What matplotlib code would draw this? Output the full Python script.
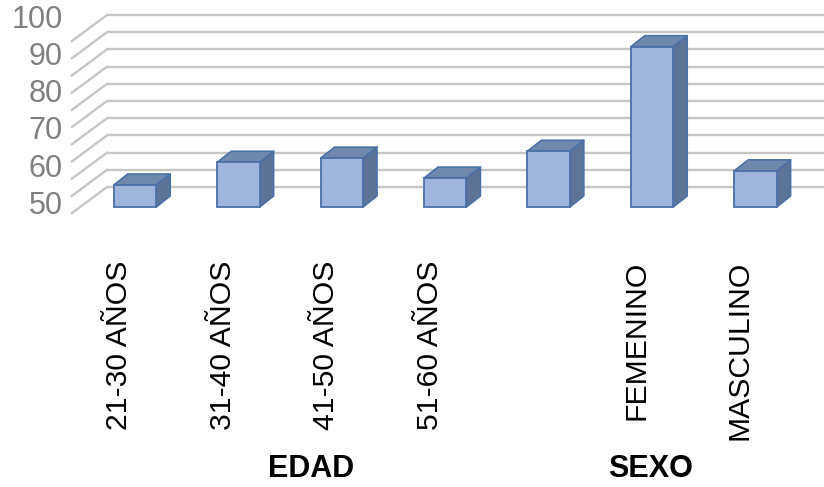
import matplotlib.pyplot as plt
from matplotlib.patches import Polygon

plt.rcParams['font.family'] = ['Liberation Sans', 'DejaVu Sans']

# datos
categorias = ['21-30 AÑOS', '31-40 AÑOS', '41-50 AÑOS', '51-60 AÑOS', '', 'FEMENINO', 'MASCULINO']
valores = [56.4, 63.0, 64.2, 58.4, 66.2, 96.6, 60.5]
grupos = ['EDAD', 'SEXO']
grupo_pos = [1.70, 4.99]
y_ticks = [50, 60, 70, 80, 90, 100]
y_grid = list(range(50, 101, 5))

BASE = 50
ANCHO = 0.41

# figure geometry (px) -> data units
W, H, DPI = 824, 487, 100
PX_X = 103.4  # px per category
PX_Y = 3.44   # px per unit
x0_px, y0_px = 135, 207  # first category / base value on the bar front plane


def dx(px):
    return px / PX_X


def dy(px):
    return px / PX_Y


fig = plt.figure(figsize=(W / DPI, H / DPI), dpi=DPI)
xlim = (-0.55, 6.55)
ylim = (50, 100)
left = (x0_px + xlim[0] * PX_X) / W
width = (xlim[1] - xlim[0]) * PX_X / W
bottom = (H - y0_px) / H
height = (ylim[1] - ylim[0]) * PX_Y / H
ax = fig.add_axes([left, bottom, width, height])
ax.set_xlim(*xlim)
ax.set_ylim(*ylim)
ax.set_axis_off()

# depth directions
pared_x = dx(80 - x0_px)          # left wall on the bar plane
fondo = (dx(27), dy(20))          # back wall offset
frente = (dx(-8), dy(-6))         # front edge of the floor
prof = (dx(14), dy(11))           # bar depth

grid_color = '#c6c6c6'
for v in y_grid:
    xb = pared_x + fondo[0]
    ax.plot([xb, 7.5], [v + fondo[1]] * 2, color=grid_color, lw=1.7,
            clip_on=False, zorder=1, solid_capstyle='butt')
    ax.plot([pared_x + frente[0], xb], [v + frente[1], v + fondo[1]],
            color=grid_color, lw=1.7, clip_on=False, zorder=1)

# bars
frente_c = '#9fb5dd'
tapa_c = '#7088ae'
lado_c = '#5d7398'
borde_c = '#4a70a8'
for i, v in enumerate(valores):
    xl, xr = i - ANCHO / 2, i + ANCHO / 2
    lado = Polygon([(xr, BASE), (xr, v), (xr + prof[0], v + prof[1]),
                    (xr + prof[0], BASE + prof[1])],
                   closed=True, facecolor=lado_c, edgecolor=borde_c,
                   lw=1.2, zorder=3, clip_on=False, joinstyle='round')
    tapa = Polygon([(xl, v), (xr, v), (xr + prof[0], v + prof[1]),
                    (xl + prof[0], v + prof[1])],
                   closed=True, facecolor=tapa_c, edgecolor=borde_c,
                   lw=1.2, zorder=3, clip_on=False, joinstyle='round')
    ax.add_patch(lado)
    ax.add_patch(tapa)
ax.bar(range(len(valores)), [v - BASE for v in valores], bottom=BASE,
       width=ANCHO, color=frente_c, edgecolor=borde_c, linewidth=1.3,
       zorder=4, clip_on=False)

# value labels on the left wall
for t in y_ticks:
    yl = 50 + dy(1) + (t - 50) * 1.084
    ax.text(dx(63 - x0_px), yl, str(t), ha='right', va='center',
            fontsize=22, color='#7f7f7f', clip_on=False)

# category labels
for i, c in enumerate(categorias):
    ax.text(i - 0.15, BASE - dy(261 - y0_px), c, rotation=90,
            ha='center', va='top', fontsize=21.7, color='black',
            clip_on=False)

for g, p in zip(grupos, grupo_pos):
    ax.text(p, BASE - dy(469 - y0_px), g, ha='center', va='center',
            fontsize=22, fontweight='bold', color='black', clip_on=False)

fig.savefig('out.png', dpi=DPI)
